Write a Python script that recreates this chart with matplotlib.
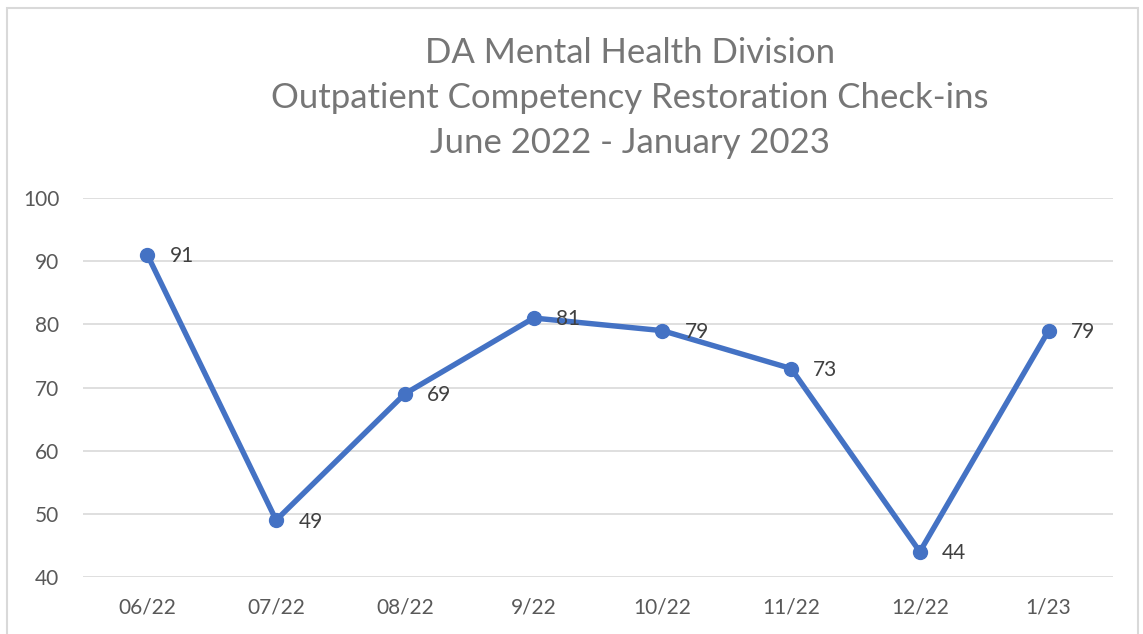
import matplotlib
matplotlib.use("Agg")
import matplotlib.pyplot as plt
from matplotlib.patches import Rectangle

categories = ["06/22", "07/22", "08/22", "9/22", "10/22", "11/22", "12/22", "1/23"]
values = [91, 49, 69, 81, 79, 73, 44, 79]
yticks = [40, 50, 60, 70, 80, 90, 100]
title = "DA Mental Health Division\nOutpatient Competency Restoration Check-ins\nJune 2022 - January 2023"

plt.rcParams['font.family'] = ['Lato', 'DejaVu Sans']

W, H = 1143, 634
fig = plt.figure(figsize=(W / 100, H / 100), dpi=100)
fig.patch.set_facecolor("white")

fig.patches.append(Rectangle((7 / W, -0.05), (1138 - 7) / W, 1 - 8 / H + 0.05,
                             transform=fig.transFigure, fill=False,
                             edgecolor="#d9d9d9", linewidth=1.5))

ax = fig.add_axes([83 / W, 1 - 577 / H, (1113 - 83) / W, (577 - 198) / H])
x = list(range(len(categories)))
ax.plot(x, values, color="#4472C4", linewidth=3.9, marker="o", markersize=10,
        solid_capstyle="round", zorder=3)
for xi, v in zip(x, values):
    ax.annotate(str(v), (xi, v), xytext=(16, -1), textcoords="offset points",
                ha="left", va="center", fontsize=15, color="#404040", zorder=4)

ax.set_xlim(-0.5, len(categories) - 0.5)
ax.set_ylim(40, 100)
ax.set_yticks(yticks)
ax.set_xticks(x)
ax.set_xticklabels(categories)
ax.grid(axis="y", color="#d9d9d9", linewidth=1.2, zorder=0)
ax.set_axisbelow(True)
for s in ax.spines.values():
    s.set_visible(False)
ax.tick_params(axis="both", length=0, labelsize=15, labelcolor="#595959")
ax.tick_params(axis="y", pad=17)
ax.tick_params(axis="x", pad=15)

fig.text(630 / W, 1 - 98 / H, title, ha="center", va="center", fontsize=25,
         color="#767676", linespacing=1.5)

fig.savefig("out.png", dpi=100)
